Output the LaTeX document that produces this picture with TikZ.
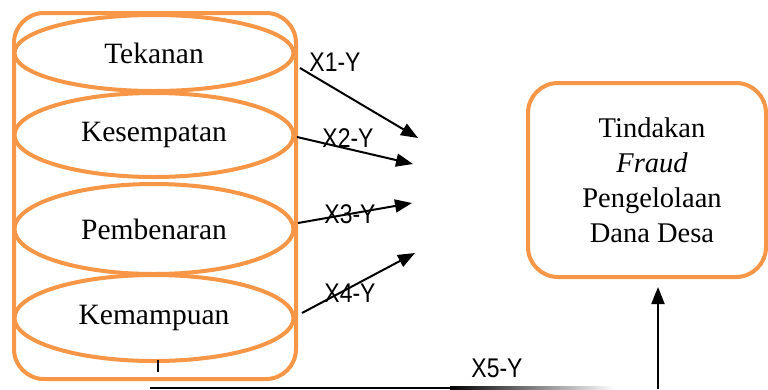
\documentclass[tikz,border=0pt]{standalone}
\usepackage{fontspec}
\setmainfont{Liberation Serif}
\newfontfamily\lblfont[FakeStretch=0.85]{Liberation Sans}
\usetikzlibrary{shapes.geometric,arrows.meta}
\definecolor{boxorange}{HTML}{F79646}
\begin{document}
\begin{tikzpicture}[x=1pt,y=-1pt,
  orangeline/.style={draw=boxorange,line width=4pt},
  varell/.style={orangeline,ellipse,inner sep=0pt,minimum width=279pt,font=\fontsize{29.5}{34}\selectfont},
  conn/.style={line width=2pt,-{Triangle[length=17pt,width=13pt]}},
  lbl/.style={font=\lblfont\fontsize{27}{30}\selectfont,inner sep=0pt}]
\useasboundingbox (0,0) rectangle (768,389);
% outer cylinder box
\node[orangeline,rounded corners=30pt,minimum width=282pt,minimum height=366pt,inner sep=0pt] (outer) at (155,196) {};
% variable ellipses
\node[varell,minimum height=76pt] (tek) at (154,53) {Tekanan};
\node[varell,minimum height=84pt] (kes) at (154,135) {Kesempatan};
\node[varell,minimum height=90pt] (pem) at (154,229) {Pembenaran};
\node[varell,minimum height=86pt] (kem) at (154,318) {Kemampuan};
% target box
\node[orangeline,rounded corners=30pt,minimum width=238pt,minimum height=194pt,inner sep=0pt,
  align=center,font=\fontsize{28.5}{35}\selectfont] (fraud) at (647,180)
  {\hspace*{10pt}Tindakan\\\hspace*{10pt}\textit{Fraud}\\\hspace*{10pt}Pengelolaan\\\hspace*{10pt}Dana Desa};
% arrows
\coordinate (s1) at (300,68);  \coordinate (t1) at (418,138);
\coordinate (s2) at (297,137); \coordinate (t2) at (413,164);
\coordinate (s3) at (298,223); \coordinate (t3) at (412,203);
\coordinate (s4) at (302,313); \coordinate (t4) at (415,253);
\draw[conn] (s1) -- (t1);
\draw[conn] (s2) -- (t2);
\draw[conn] (s3) -- (t3);
\draw[conn] (s4) -- (t4);
\node[lbl] (l1) at (335,62) {X1-Y};
\node[lbl] (l2) at (348,138) {X2-Y};
\node[lbl] (l3) at (350,214) {X3-Y};
\node[lbl] (l4) at (350,293) {X4-Y};
% X5 path
\coordinate (k5a) at (158,360);
\coordinate (k5b) at (158,372);
\draw[line width=1.5pt] (k5a) -- (k5b);
\fill[black] (150,386.5) rectangle (450,389);
\shade[left color=black,right color=white] (450,386.5) rectangle (615,389);
\coordinate (v5) at (658,389);
\coordinate (t5) at (658,287);
\draw[conn] (v5) -- (t5);
\node[lbl] (l5) at (497,368) {X5-Y};
\end{tikzpicture}
\end{document}
